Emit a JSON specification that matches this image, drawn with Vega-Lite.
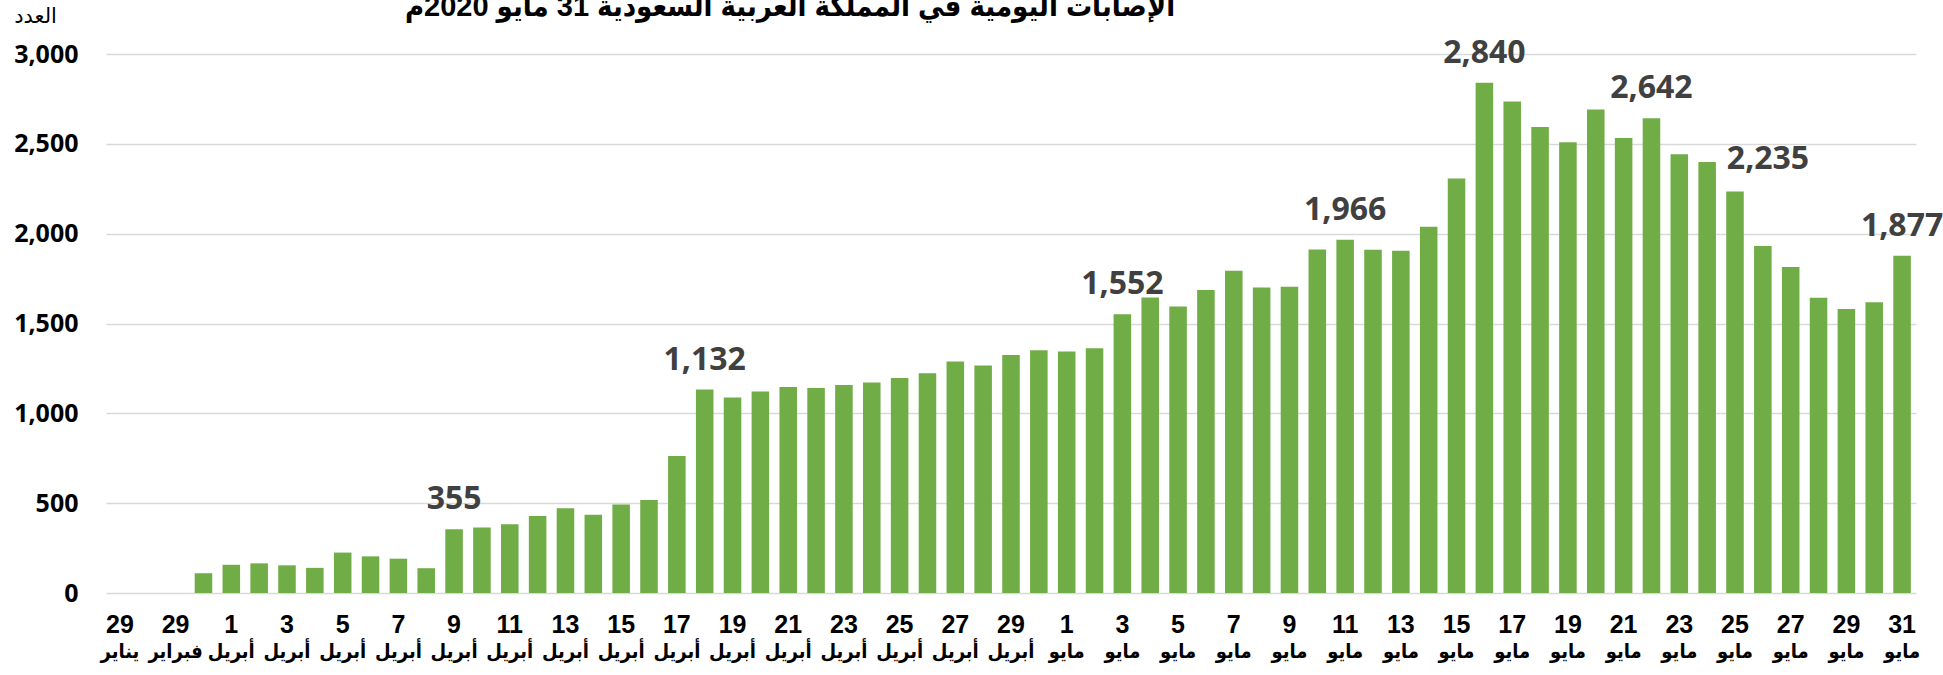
{
  "$schema": "https://vega.github.io/schema/vega-lite/v6.json",
  "width": 1810,
  "height": 539,
  "autosize": {"type": "none"},
  "padding": {"left": 106, "top": 54, "right": 27, "bottom": 82},
  "background": "white",
  "title": {
    "text": "الإصابات اليومية في المملكة العربية السعودية 31 مايو 2020م",
    "anchor": "middle",
    "dx": -221,
    "dy": 50,
    "font": "Liberation Sans, DejaVu Sans Condensed, DejaVu Sans",
    "fontSize": 29,
    "fontWeight": "bold",
    "color": "#000000",
    "baseline": "alphabetic",
    "offset": 10
  },
  "config": {"view": {"stroke": null}},
  "data": {
    "values": [
      {"day": "29 يناير", "cases": 0},
      {"day": "31 يناير", "cases": 0},
      {"day": "29 فبراير", "cases": 0},
      {"day": "31 مارس", "cases": 110},
      {"day": "1 أبريل", "cases": 157},
      {"day": "2 أبريل", "cases": 165},
      {"day": "3 أبريل", "cases": 154},
      {"day": "4 أبريل", "cases": 140},
      {"day": "5 أبريل", "cases": 225},
      {"day": "6 أبريل", "cases": 204},
      {"day": "7 أبريل", "cases": 191},
      {"day": "8 أبريل", "cases": 138},
      {"day": "9 أبريل", "cases": 355},
      {"day": "10 أبريل", "cases": 364},
      {"day": "11 أبريل", "cases": 382},
      {"day": "12 أبريل", "cases": 429},
      {"day": "13 أبريل", "cases": 472},
      {"day": "14 أبريل", "cases": 435},
      {"day": "15 أبريل", "cases": 493},
      {"day": "16 أبريل", "cases": 518},
      {"day": "17 أبريل", "cases": 762},
      {"day": "18 أبريل", "cases": 1132},
      {"day": "19 أبريل", "cases": 1088},
      {"day": "20 أبريل", "cases": 1122},
      {"day": "21 أبريل", "cases": 1147},
      {"day": "22 أبريل", "cases": 1141},
      {"day": "23 أبريل", "cases": 1158},
      {"day": "24 أبريل", "cases": 1172},
      {"day": "25 أبريل", "cases": 1197},
      {"day": "26 أبريل", "cases": 1223},
      {"day": "27 أبريل", "cases": 1289},
      {"day": "28 أبريل", "cases": 1266},
      {"day": "29 أبريل", "cases": 1325},
      {"day": "30 أبريل", "cases": 1351},
      {"day": "1 مايو", "cases": 1344},
      {"day": "2 مايو", "cases": 1362},
      {"day": "3 مايو", "cases": 1552},
      {"day": "4 مايو", "cases": 1645},
      {"day": "5 مايو", "cases": 1595},
      {"day": "6 مايو", "cases": 1687},
      {"day": "7 مايو", "cases": 1793},
      {"day": "8 مايو", "cases": 1701},
      {"day": "9 مايو", "cases": 1704},
      {"day": "10 مايو", "cases": 1912},
      {"day": "11 مايو", "cases": 1966},
      {"day": "12 مايو", "cases": 1911},
      {"day": "13 مايو", "cases": 1905},
      {"day": "14 مايو", "cases": 2039},
      {"day": "15 مايو", "cases": 2307},
      {"day": "16 مايو", "cases": 2840},
      {"day": "17 مايو", "cases": 2736},
      {"day": "18 مايو", "cases": 2593},
      {"day": "19 مايو", "cases": 2509},
      {"day": "20 مايو", "cases": 2691},
      {"day": "21 مايو", "cases": 2532},
      {"day": "22 مايو", "cases": 2642},
      {"day": "23 مايو", "cases": 2442},
      {"day": "24 مايو", "cases": 2399},
      {"day": "25 مايو", "cases": 2235},
      {"day": "26 مايو", "cases": 1931},
      {"day": "27 مايو", "cases": 1815},
      {"day": "28 مايو", "cases": 1644},
      {"day": "29 مايو", "cases": 1581},
      {"day": "30 مايو", "cases": 1618},
      {"day": "31 مايو", "cases": 1877}
    ]
  },
  "layer": [
    {
      "mark": {"type": "bar", "color": "#70AD47"},
      "encoding": {
        "x": {
          "field": "day",
          "type": "nominal",
          "sort": null,
          "scale": {"paddingInner": 0.37, "paddingOuter": 0.185},
          "title": null,
          "axis": {
            "orient": "bottom",
            "values": ["29 يناير", "29 فبراير", "1 أبريل", "3 أبريل", "5 أبريل", "7 أبريل", "9 أبريل", "11 أبريل", "13 أبريل", "15 أبريل", "17 أبريل", "19 أبريل", "21 أبريل", "23 أبريل", "25 أبريل", "27 أبريل", "29 أبريل", "1 مايو", "3 مايو", "5 مايو", "7 مايو", "9 مايو", "11 مايو", "13 مايو", "15 مايو", "17 مايو", "19 مايو", "21 مايو", "23 مايو", "25 مايو", "27 مايو", "29 مايو", "31 مايو"],
            "labelExpr": "split(datum.label, ' ')[0]",
            "labelAngle": 0,
            "labelFont": "Liberation Sans",
            "labelFontSize": 25,
            "labelFontWeight": "bold",
            "labelColor": "#000000",
            "labelPadding": 19,
            "ticks": false,
            "tickSize": 0,
            "domain": false,
            "grid": false
          }
        },
        "y": {
          "field": "cases",
          "type": "quantitative",
          "scale": {"domain": [0, 3000], "nice": false},
          "title": "العدد",
          "axis": {
            "values": [0, 500, 1000, 1500, 2000, 2500, 3000],
            "format": ",.0f",
            "labelFont": "Open Sans",
            "labelFontSize": 25,
            "labelFontWeight": "bold",
            "labelColor": "#000000",
            "labelPadding": 28,
            "ticks": false,
            "tickSize": 0,
            "domain": false,
            "grid": true,
            "gridColor": "#d9d9d9",
            "gridWidth": 1.5,
            "titleAngle": 0,
            "titleX": -71,
            "titleY": -38,
            "titleAlign": "center",
            "titleBaseline": "middle",
            "titleFont": "DejaVu Sans",
            "titleFontSize": 21,
            "titleFontWeight": "normal",
            "titleColor": "#000000"
          }
        }
      }
    },
    {
      "mark": {"type": "text", "font": "Open Sans", "fontSize": 32, "fontWeight": "bold", "color": "#404040", "baseline": "alphabetic", "dy": -20},
      "encoding": {
        "x": {
          "field": "day",
          "type": "nominal",
          "sort": null,
          "title": null,
          "axis": {
            "orient": "bottom",
            "values": ["29 يناير", "29 فبراير", "1 أبريل", "3 أبريل", "5 أبريل", "7 أبريل", "9 أبريل", "11 أبريل", "13 أبريل", "15 أبريل", "17 أبريل", "19 أبريل", "21 أبريل", "23 أبريل", "25 أبريل", "27 أبريل", "29 أبريل", "1 مايو", "3 مايو", "5 مايو", "7 مايو", "9 مايو", "11 مايو", "13 مايو", "15 مايو", "17 مايو", "19 مايو", "21 مايو", "23 مايو", "25 مايو", "27 مايو", "29 مايو", "31 مايو"],
            "labelExpr": "split(datum.label, ' ')[1]",
            "labelAngle": 0,
            "labelFont": "DejaVu Sans Condensed, DejaVu Sans",
            "labelFontSize": 20,
            "labelFontWeight": "bold",
            "labelColor": "#000000",
            "labelPadding": 48,
            "ticks": false,
            "tickSize": 0,
            "domain": false,
            "grid": false
          }
        },
        "y": {"field": "cases", "type": "quantitative"},
        "text": {
          "condition": {"test": "indexof(['9 أبريل', '18 أبريل', '3 مايو', '11 مايو', '16 مايو', '22 مايو', '31 مايو'], datum.day) >= 0", "field": "cases", "format": ","},
          "value": ""
        }
      }
    },
    {
      "mark": {"type": "text", "font": "Open Sans", "fontSize": 32, "fontWeight": "bold", "color": "#404040", "baseline": "alphabetic", "dy": -22, "dx": 33},
      "encoding": {
        "x": {"field": "day", "type": "nominal", "sort": null, "axis": null},
        "y": {"field": "cases", "type": "quantitative"},
        "text": {
          "condition": {"test": "datum.day === '25 مايو'", "field": "cases", "format": ","},
          "value": ""
        }
      }
    }
  ],
  "resolve": {"axis": {"x": "independent"}}
}
